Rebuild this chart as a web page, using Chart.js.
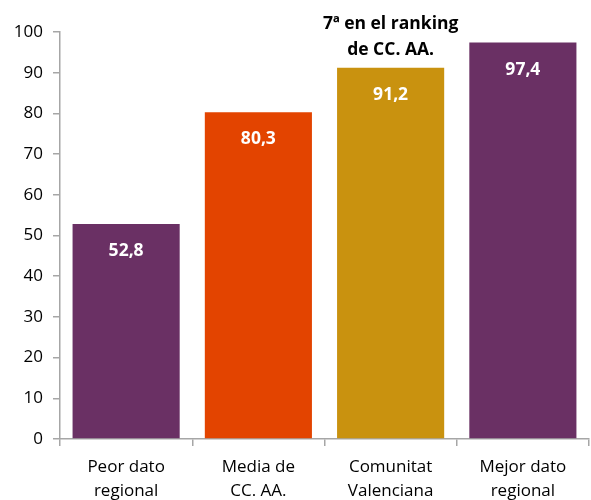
<!DOCTYPE html>
<html>
<head>
<meta charset="utf-8">
<script src="https://cdn.jsdelivr.net/npm/chart.js@4.4.1/dist/chart.umd.min.js"></script>
<style>
  html, body { margin: 0; padding: 0; background: #fff; }
  #wrap { width: 591px; height: 500px; }
</style>
</head>
<body>
<div id="wrap"><canvas id="chart"></canvas></div>
<script>
// data
const categories = [["Peor dato", "regional"], ["Media de", "CC. AA."], ["Comunitat", "Valenciana"], ["Mejor dato", "regional"]];
const values = [52.8, 80.3, 91.2, 97.4];
const valueLabels = ["52,8", "80,3", "91,2", "97,4"];
const barColors = ["#6a3064", "#e34400", "#c9920f", "#6a3064"];
const annotationIndex = 2;
const annotationLines = ["7ª en el ranking", "de CC. AA."];

const FONT = "'Open Sans', 'Noto Sans', sans-serif";
const axisGray = "#a6a6a6";

// etiquetas dentro de las barras + anotación
const labelsPlugin = {
  id: 'barLabels',
  afterDatasetsDraw(chart) {
    const ctx = chart.ctx;
    const meta = chart.getDatasetMeta(0);
    ctx.save();
    ctx.textAlign = 'center';
    ctx.textBaseline = 'middle';
    ctx.font = "bold 17.5px " + FONT;
    meta.data.forEach((bar, i) => {
      ctx.fillStyle = '#ffffff';
      ctx.fillText(valueLabels[i], bar.x, bar.y + 27);
    });
    const b = meta.data[annotationIndex];
    ctx.fillStyle = '#000000';
    ctx.fillText(annotationLines[0], b.x, b.y - 44);
    ctx.fillText(annotationLines[1], b.x, b.y - 18);
    ctx.restore();
  }
};

const ctx = document.getElementById('chart').getContext('2d');
const chart = new Chart(ctx, {
  type: 'bar',
  data: {
    labels: categories,
    datasets: [{
      data: values,
      backgroundColor: barColors,
      barPercentage: 0.81,
      categoryPercentage: 1.0
    }]
  },
  options: {
    responsive: true,
    maintainAspectRatio: false,
    animation: false,
    layout: { padding: { top: 32, right: 2, left: 0, bottom: 0 } },
    plugins: {
      legend: { display: false },
      tooltip: { enabled: false }
    },
    scales: {
      x: {
        grid: { offset: true, drawOnChartArea: false, drawTicks: true, tickLength: 7, color: axisGray, lineWidth: 1.5 },
        border: { display: true, color: axisGray, width: 1.5 },
        ticks: { color: '#000', font: { family: FONT, size: 17, lineHeight: 1.42 }, padding: 9, maxRotation: 0 },
        afterFit(scale) { scale.height = 61; }
      },
      y: {
        min: 0,
        max: 100,
        grid: { drawOnChartArea: false, drawTicks: true, tickLength: 7, color: axisGray, lineWidth: 1.5 },
        border: { display: true, color: axisGray, width: 1.5 },
        ticks: { stepSize: 10, color: '#000', font: { family: FONT, size: 17 }, padding: 10 },
        afterFit(scale) { scale.width = 60; }
      }
    }
  },
  plugins: [labelsPlugin]
});
</script>
</body>
</html>
